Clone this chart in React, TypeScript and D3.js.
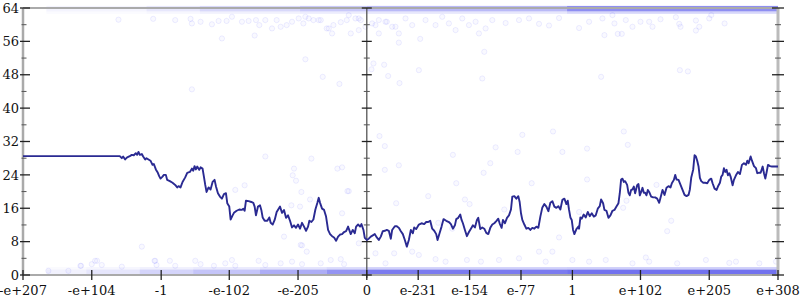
import React from "react";
import * as d3 from "d3";

// x position is a signed log10 offset: sign(x) * (log10|x| + 308)
const tickU = [-515, -412, -308, -206, -103, 0, 77, 154, 231, 308, 410, 513, 616];
const tickLabels = ["-e+207", "-e+104", "-1", "-e-102", "-e-205", "0", "e-231", "e-154", "e-77", "1", "e+102", "e+205", "e+308"];
const yMajor = [0, 8, 16, 24, 32, 40, 48, 56, 64];
const yMinor = [4, 12, 20, 28, 36, 44, 52, 60];

const lineData: [number, number][] = [
  [-515, 28.5], [-370, 28.5], [-367, 28.0], [-365, 28.4], [-362, 27.7], [-359, 28.2], [-355, 28.5], [-352, 28.8],
  [-349, 28.7], [-346, 29.2], [-344, 28.8], [-342, 29.5], [-340, 28.8], [-337, 29.0], [-335, 28.4], [-332, 27.7],
  [-330, 28.0], [-327, 27.7], [-324, 27.4], [-321, 26.4], [-319, 26.6], [-316, 25.3], [-313, 24.5], [-311, 23.7],
  [-309, 23.1], [-306, 23.6], [-304, 24.0], [-301, 24.0], [-299, 22.8], [-295, 22.5], [-291, 22.1], [-287, 21.6],
  [-284, 21.0], [-282, 21.3], [-279, 21.0], [-276, 22.3], [-272, 23.4], [-269, 24.5], [-265, 24.7], [-262, 25.5],
  [-260, 25.0], [-258, 26.1], [-256, 25.3], [-254, 26.0], [-251, 25.2], [-249, 25.8], [-246, 25.5], [-244, 23.6],
  [-242, 21.6], [-240, 19.9], [-237, 21.0], [-234, 20.5], [-231, 22.3], [-228, 22.8], [-226, 21.3], [-223, 19.6],
  [-220, 18.8], [-217, 18.3], [-214, 19.4], [-211, 19.6], [-209, 17.2], [-206, 16.4], [-204, 13.3], [-201, 14.3],
  [-199, 14.9], [-195, 15.4], [-191, 15.7], [-187, 15.6], [-185, 15.9], [-183, 15.4], [-181, 17.8], [-177, 17.7],
  [-173, 17.5], [-170, 17.3], [-168, 16.4], [-166, 14.3], [-163, 16.4], [-160, 16.7], [-158, 15.6], [-156, 13.8],
  [-153, 13.0], [-149, 13.0], [-146, 13.8], [-144, 12.5], [-141, 12.1], [-138, 13.2], [-135, 15.1], [-132, 15.9],
  [-130, 16.4], [-127, 14.9], [-124, 15.6], [-121, 13.7], [-118, 14.3], [-115, 13.0], [-112, 11.4], [-109, 11.9],
  [-106, 11.3], [-103, 12.1], [-100, 11.1], [-97, 12.5], [-94, 11.6], [-91, 10.6], [-88, 11.6], [-86, 13.0],
  [-83, 12.7], [-80, 13.3], [-77, 15.7], [-74, 17.3], [-72, 18.5], [-70, 17.3], [-67, 15.9], [-64, 15.6],
  [-61, 14.0], [-58, 10.8], [-55, 9.8], [-52, 9.3], [-49, 9.0], [-46, 8.2], [-43, 9.2], [-40, 9.7],
  [-37, 9.8], [-34, 10.3], [-31, 10.5], [-28, 11.6], [-27, 11.1], [-24, 9.8], [-21, 10.8], [-18, 10.0],
  [-16, 11.6], [-13, 12.1], [-10, 11.6], [-8, 12.2], [-5, 10.8], [-3, 8.9], [0, 8.4], [3, 8.7],
  [6, 9.2], [9, 9.5], [12, 9.8], [15, 9.0], [18, 8.4], [21, 9.2], [24, 10.5], [27, 10.6],
  [30, 10.8], [33, 10.6], [36, 8.7], [38, 10.8], [42, 11.7], [45, 11.7], [48, 11.3], [51, 10.5],
  [54, 9.8], [57, 8.4], [60, 6.8], [63, 8.4], [66, 10.8], [69, 10.0], [71, 11.4], [74, 11.0],
  [78, 12.1], [82, 12.4], [86, 12.2], [89, 12.7], [92, 12.7], [95, 13.0], [98, 11.1], [101, 10.6],
  [104, 9.8], [106, 8.4], [109, 10.0], [112, 11.6], [115, 13.4], [119, 13.0], [123, 12.7], [126, 12.2],
  [129, 11.1], [132, 11.9], [134, 13.4], [137, 13.7], [140, 14.5], [142, 13.2], [144, 12.4], [147, 10.8],
  [150, 9.3], [153, 10.3], [156, 11.1], [159, 11.9], [162, 11.4], [165, 13.2], [167, 13.7], [170, 11.0],
  [173, 11.4], [176, 11.1], [179, 10.1], [182, 9.8], [185, 11.3], [188, 12.1], [191, 12.4], [194, 12.9],
  [197, 13.5], [199, 12.4], [202, 11.3], [204, 13.2], [207, 12.4], [210, 13.7], [213, 14.3], [216, 15.7],
  [218, 18.8], [221, 18.9], [224, 18.3], [227, 18.9], [229, 17.5], [231, 14.8], [233, 13.2], [236, 12.1],
  [239, 11.1], [242, 11.3], [245, 10.8], [248, 11.3], [251, 11.1], [254, 11.6], [257, 11.3], [260, 14.0],
  [263, 16.2], [266, 17.0], [269, 16.4], [272, 15.3], [275, 17.3], [278, 17.7], [281, 16.4], [284, 16.1],
  [287, 16.5], [290, 15.7], [293, 18.0], [296, 18.3], [299, 17.0], [301, 17.8], [303, 15.6], [305, 13.8],
  [307, 13.2], [309, 10.8], [311, 9.8], [314, 11.0], [317, 11.6], [318, 11.1], [320, 13.8], [322, 13.5],
  [325, 14.5], [328, 13.8], [331, 15.1], [334, 14.1], [337, 14.8], [340, 14.0], [343, 14.3], [346, 15.9],
  [349, 16.5], [351, 18.1], [354, 17.2], [356, 15.6], [359, 15.4], [362, 13.7], [365, 14.3], [368, 15.4],
  [371, 15.6], [374, 16.4], [377, 17.2], [379, 19.6], [381, 22.9], [383, 23.1], [385, 22.3], [387, 22.5],
  [390, 21.6], [392, 19.7], [394, 19.1], [396, 20.4], [398, 20.5], [400, 21.2], [402, 19.6], [405, 21.5],
  [407, 21.8], [409, 19.1], [411, 19.9], [413, 20.9], [415, 19.7], [417, 19.7], [419, 19.1], [421, 20.4],
  [423, 19.9], [426, 18.8], [429, 18.6], [432, 18.6], [435, 18.3], [438, 17.3], [441, 19.1], [443, 20.4],
  [446, 19.2], [449, 20.9], [452, 21.3], [455, 21.0], [457, 22.0], [460, 22.8], [462, 24.0], [464, 22.9],
  [467, 22.8], [470, 21.6], [473, 20.4], [476, 19.2], [479, 18.9], [482, 19.2], [484, 20.5], [486, 23.3],
  [489, 25.3], [491, 28.7], [493, 28.4], [495, 27.4], [497, 26.0], [499, 23.3], [501, 22.5], [504, 22.1],
  [507, 22.1], [510, 22.0], [513, 22.8], [516, 23.1], [518, 22.0], [521, 20.7], [524, 20.4], [526, 21.2],
  [529, 22.1], [531, 23.6], [533, 24.0], [535, 25.6], [537, 24.7], [539, 25.2], [541, 23.9], [543, 24.4],
  [545, 23.6], [548, 21.5], [550, 22.8], [553, 23.9], [556, 24.7], [559, 24.2], [562, 26.4], [565, 26.8],
  [568, 26.4], [570, 27.4], [572, 26.8], [575, 28.4], [577, 27.4], [580, 26.1], [583, 25.6], [585, 24.4],
  [587, 24.5], [590, 24.5], [593, 26.0], [595, 24.4], [597, 23.1], [599, 24.7], [601, 26.4], [604, 26.1],
  [607, 26.0], [616, 26.0],
];

// dense stripes of samples: [uStart, uEnd, density]
const bottomBand: [number, number, number][] = [
  [-480, -420, 0.07], [-420, -340, 0.13], [-340, -260, 0.22], [-260, -160, 0.3],
  [-160, -60, 0.42], [-60, 0, 0.55], [0, 300, 0.68], [300, 616, 0.72],
];
const topBand: [number, number, number][] = [
  [-480, -330, 0.06], [-330, -250, 0.12], [-250, -100, 0.2], [-100, 0, 0.28],
  [0, 300, 0.36], [300, 616, 0.58],
];

// scattered samples [u, value]
const scatterPts: [number, number][] = [
  [-152, 28.4], [-83, 27.9], [-109, 25.5], [-111, 23.9], [-106, 22.6], [-44, 25.5], [-37, 25.8], [-29, 20.1],
  [-197, 20.4], [-183, 21.5], [-98, 19.9], [-85, 18.1], [-113, 16.7], [-100, 16.4], [-124, 9.2], [-97, 7.1],
  [-337, 6.8], [19, 33.3], [27, 30.9], [233, 33.6], [279, 34.4], [193, 30.6], [129, 28.8], [226, 29.5],
  [293, 29.5], [330, 30.3], [48, 26.3], [27, 25.2], [185, 26.8], [175, 24.5], [134, 22.0], [247, 22.0],
  [330, 22.9], [-27, 20.1], [92, 18.9], [147, 18.1], [154, 17.0], [44, 17.2], [206, 15.7], [318, 15.1],
  [107, 12.5], [128, 11.1], [288, 9.0], [-12, 7.6], [385, 34.4], [391, 31.2], [389, 17.8], [384, 16.1],
  [456, 13.0], [450, 10.5], [434, 21.6], [-92, 51.7], [-66, 47.5], [-41, 45.8], [7, 49.3], [10, 50.7],
  [26, 50.4], [32, 47.7], [49, 46.0], [78, 49.1], [173, 47.1], [176, 53.5], [48, 55.7], [80, 56.6],
  [18, 57.9], [356, 57.5], [376, 57.8], [382, 57.8], [469, 49.1], [481, 48.8], [351, 47.5], [493, 58.6],
  [-37, 14.8], [-99, 7.2], [-90, 5.6], [13, 5.2], [41, 5.2], [418, 4.2], [508, 3.6], [-407, 3.4],
  [-428, 2.2], [-318, 3.4], [-262, 44.5],
];
const topPts: [number, number][] = [
  [-372, 61.2], [-320, 61.4], [-287, 61.1], [-264, 61.4], [-262, 60.3], [-249, 60.7], [-232, 60.1], [-222, 60.9],
  [-210, 60.9], [-202, 61.9], [-187, 60.7], [-177, 60.9], [-166, 61.1], [-161, 59.9], [-152, 61.1], [-142, 59.1],
  [-135, 61.1], [-129, 59.5], [-120, 59.9], [-112, 60.7], [-102, 61.5], [-95, 60.3], [-87, 61.5], [-80, 61.1],
  [-69, 61.1], [-60, 59.1], [-50, 59.9], [-39, 60.6], [-30, 61.1], [-24, 57.9], [-17, 61.5], [-9, 61.1],
  [-2, 59.5], [8, 60.3], [18, 61.1], [28, 60.7], [38, 59.5], [-217, 56.7], [-168, 57.4], [-92, 61.9],
  [-72, 61.1], [-57, 59.1], [-27, 62.3], [-12, 61.5], [-12, 58.7], [13, 59.9], [30, 60.7], [43, 59.5],
  [58, 61.5], [68, 59.9], [88, 61.1], [103, 59.9], [113, 61.9], [123, 60.3], [133, 58.7], [143, 61.5],
  [153, 59.9], [163, 60.7], [178, 59.1], [188, 61.1], [168, 57.9], [-52, 57.9], [48, 57.9], [353, 61.5],
  [368, 62.3], [371, 60.3], [388, 61.1], [398, 59.5], [410, 60.7], [423, 60.7], [428, 59.5], [440, 61.3],
  [463, 61.8], [468, 60.2], [470, 59.5], [493, 61.0], [498, 59.5], [513, 61.5], [516, 62.3], [536, 60.3],
  [228, 61.1], [258, 60.2], [288, 61.6], [318, 59.2], [333, 60.7], [208, 60.4], [243, 61.5], [273, 59.8],
];
const bottomPts: [number, number][] = [
  [-477, 1.0], [-447, 1.0], [-429, 2.2], [-412, 2.6], [-404, 3.4], [-397, 2.4], [-367, 2.0], [-317, 3.4],
  [-315, 2.4], [-295, 3.4], [-287, 2.2], [-257, 3.4], [-249, 2.6], [-229, 2.2], [-212, 2.8], [-202, 3.6],
  [-197, 2.2], [-162, 3.4], [-152, 2.4], [-129, 2.8], [-112, 3.2], [-97, 2.6], [-69, 2.8], [-54, 3.6],
  [-39, 3.8], [-34, 2.6], [28, 2.8], [68, 5.6], [78, 4.8], [103, 3.8], [118, 3.2], [150, 3.6],
  [171, 3.2], [198, 3.6], [228, 4.0], [258, 5.6], [278, 5.6], [268, 3.2], [308, 3.6], [333, 3.2],
  [358, 3.6], [398, 2.8], [423, 3.2], [465, 2.8], [543, 2.9], [553, 3.2], [588, 2.8], [613, 3.2],
];

const W = 800;
const H = 300;
const FONT = "'DejaVu Serif', serif";

export default function App() {
  const x = d3.scaleLinear().domain([-515, 616]).range([23, 778]);
  const y = d3.scaleLinear().domain([0, 64]).range([275, 8]);
  const line = d3
    .line<[number, number]>()
    .x((d) => x(d[0]))
    .y((d) => y(d[1]));

  const x0 = x(-515);
  const xm = x(0);
  const x1 = x(616);

  const dot = (d: [number, number], i: number, key: string) => (
    <circle
      key={key + i}
      cx={x(d[0])}
      cy={y(d[1])}
      r={2.6}
      fill="rgba(90,90,255,0.035)"
      stroke="rgba(90,90,255,0.1)"
      strokeWidth={1}
    />
  );

  return (
    <svg width={W} height={H} style={{ position: "absolute", left: 0, top: 0, background: "#fff" }}>
      {/* dense sample stripes */}
      {bottomBand.map((b, i) => (
        <g key={"bb" + i}>
          <rect x={x(b[0])} width={x(b[1]) - x(b[0])} y={y(1.3)} height={y(0) - y(1.3)} fill="#3c3ce8" opacity={b[2]} />
          <rect x={x(b[0])} width={x(b[1]) - x(b[0])} y={y(1.9)} height={y(1.3) - y(1.9)} fill="#3c3ce8" opacity={b[2] * 0.35} />
        </g>
      ))}
      {topBand.map((b, i) => (
        <g key={"tb" + i}>
          <rect x={x(b[0])} width={x(b[1]) - x(b[0])} y={y(64.5)} height={y(63.2) - y(64.5)} fill="#3c3ce8" opacity={b[2]} />
          <rect x={x(b[0])} width={x(b[1]) - x(b[0])} y={y(63.2)} height={y(62.6) - y(63.2)} fill="#3c3ce8" opacity={b[2] * 0.35} />
        </g>
      ))}
      {scatterPts.map((d, i) => dot(d, i, "s"))}
      {topPts.map((d, i) => dot(d, i, "t"))}
      {bottomPts.map((d, i) => dot(d, i, "b"))}

      {/* frame */}
      <line x1={x0} x2={x1} y1={y(64)} y2={y(64)} stroke="#aaa" strokeWidth={2} />
      <line x1={x0} x2={x1} y1={y(0)} y2={y(0)} stroke="#aaa" strokeWidth={2} />
      <line x1={x0} x2={x0} y1={y(64)} y2={y(0)} stroke="#aaa" strokeWidth={2.5} />
      <line x1={x1} x2={x1} y1={y(64)} y2={y(0)} stroke="#bbb" strokeWidth={3} />
      <line x1={xm} x2={xm} y1={y(64)} y2={y(0) + 3} stroke="#555" strokeWidth={1.3} />

      {/* y ticks */}
      {yMajor.map((v) => (
        <g key={"ym" + v}>
          <line x1={x0 - 3} x2={x0 + 7} y1={y(v)} y2={y(v)} stroke="#222" strokeWidth={1.3} />
          <line x1={xm - 5} x2={xm + 5} y1={y(v)} y2={y(v)} stroke="#222" strokeWidth={1.3} />
          <line x1={x1 - 6} x2={x1 + 6} y1={y(v)} y2={y(v)} stroke="#222" strokeWidth={1.3} />
          <text x={19} y={y(v)} dy="0.36em" textAnchor="end" fontFamily={FONT} fontSize={13} fill="#111">
            {v}
          </text>
        </g>
      ))}
      {yMinor.map((v) => (
        <g key={"yn" + v}>
          <line x1={x0 - 1.5} x2={x0 + 3.5} y1={y(v)} y2={y(v)} stroke="#555" strokeWidth={1} />
          <line x1={xm - 3} x2={xm + 3} y1={y(v)} y2={y(v)} stroke="#555" strokeWidth={1} />
          <line x1={x1 - 3} x2={x1 + 3} y1={y(v)} y2={y(v)} stroke="#555" strokeWidth={1} />
        </g>
      ))}

      {/* x ticks */}
      {tickU.map((u, i) => (
        <g key={"xt" + i}>
          <line x1={x(u)} x2={x(u)} y1={y(0) - 5} y2={y(0) + 5} stroke="#222" strokeWidth={1.3} />
          <text x={x(u)} y={295} textAnchor="middle" fontFamily={FONT} fontSize={13} fill="#111">
            {tickLabels[i]}
          </text>
        </g>
      ))}

      <path d={line(lineData) || ""} fill="none" stroke="#2a2a92" strokeWidth={1.9} strokeLinejoin="round" />
    </svg>
  );
}
